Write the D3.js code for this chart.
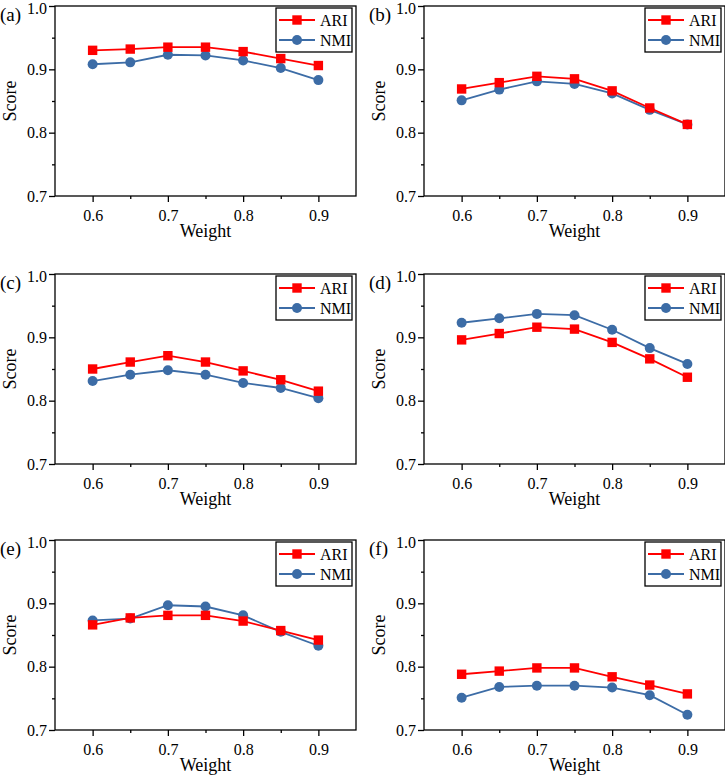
<!DOCTYPE html>
<html lang="en">
<meta charset="utf-8">
<style>
body { margin: 0; background: #fff; }
svg, svg text { font-family: 'Liberation Serif', 'Times New Roman', 'DejaVu Serif', serif; }
svg text { fill: #000; }
.frame { fill: none; stroke: #000; stroke-width: 1.3px; }
.line { fill: none; stroke-width: 1.8px; }
</style>
<body>
<script src="https://d3js.org/d3.v7.min.js"></script>
<script>

var weights = [0.6, 0.65, 0.7, 0.75, 0.8, 0.85, 0.9];

var ariA = [0.930, 0.932, 0.935, 0.935, 0.928, 0.917, 0.906];
var nmiA = [0.908, 0.911, 0.923, 0.922, 0.914, 0.902, 0.883];

var ariB = [0.869, 0.879, 0.889, 0.885, 0.866, 0.839, 0.813];
var nmiB = [0.851, 0.868, 0.881, 0.877, 0.862, 0.836, 0.813];

var ariC = [0.850, 0.861, 0.871, 0.861, 0.847, 0.833, 0.815];
var nmiC = [0.831, 0.841, 0.848, 0.841, 0.828, 0.820, 0.804];

var ariD = [0.896, 0.906, 0.916, 0.913, 0.892, 0.866, 0.837];
var nmiD = [0.923, 0.930, 0.937, 0.935, 0.912, 0.883, 0.858];

var ariE = [0.866, 0.877, 0.881, 0.881, 0.872, 0.857, 0.842];
var nmiE = [0.873, 0.876, 0.897, 0.895, 0.881, 0.855, 0.833];

var ariF = [0.788, 0.793, 0.798, 0.798, 0.784, 0.771, 0.757];
var nmiF = [0.751, 0.768, 0.770, 0.770, 0.767, 0.755, 0.724];

var panelLabels = ["(a)", "(b)", "(c)", "(d)", "(e)", "(f)"];
var xTicks = [0.6, 0.7, 0.8, 0.9];
var yTicks = [0.7, 0.8, 0.9, 1.0];

var ariSeries = [ariA, ariB, ariC, ariD, ariE, ariF];
var nmiSeries = [nmiA, nmiB, nmiC, nmiD, nmiE, nmiF];

var red = "#ff0000", blue = "#3c6ca6";
var serif = "'Liberation Serif', 'Times New Roman', 'DejaVu Serif', serif";

var colLeft = [55, 424], rowTop = [6, 274, 540];
var width = 301, height = 190;

var svg = d3.select("body").append("svg")
    .attr("width", 725)
    .attr("height", 777)
    .attr("font-family", serif);

panelLabels.forEach(function(label, i) {
  var ox = colLeft[i % 2], oy = rowTop[Math.floor(i / 2)];
  var g = svg.append("g").attr("transform", "translate(" + ox + "," + oy + ")");

  var x = d3.scaleLinear().domain([0.55, 0.95]).range([0, width]);
  var y = d3.scaleLinear().domain([0.7, 1.0]).range([height, 0]);

  // minor ticks
  g.append("g")
      .attr("transform", "translate(0," + height + ")")
      .call(d3.axisBottom(x).tickValues([0.65, 0.75, 0.85]).tickSize(3).tickFormat(""))
      .call(function(a) { a.select(".domain").remove(); });
  g.append("g")
      .call(d3.axisLeft(y).tickValues([0.75, 0.85, 0.95]).tickSize(3).tickFormat(""))
      .call(function(a) { a.select(".domain").remove(); });

  // major ticks
  var xa = g.append("g")
      .attr("transform", "translate(0," + height + ")")
      .call(d3.axisBottom(x).tickValues(xTicks).tickSize(6).tickPadding(8).tickFormat(d3.format(".1f")));
  var ya = g.append("g")
      .call(d3.axisLeft(y).tickValues(yTicks).tickSize(6).tickPadding(2).tickFormat(d3.format(".1f")));
  [xa, ya].forEach(function(a) {
    a.attr("font-family", serif).attr("font-size", 16);
    a.select(".domain").remove();
    a.selectAll("text").attr("font-family", serif).attr("font-size", 16);
  });
  // top label sits a little low, as in the source figure
  ya.selectAll(".tick").filter(function(d) { return d === 1.0; })
      .select("text").attr("dy", "0.45em");
  g.selectAll(".tick line").attr("stroke", "#000").attr("stroke-width", 1.3);

  g.append("rect").attr("class", "frame")
      .attr("width", width).attr("height", height);

  g.append("text")
      .attr("transform", "rotate(-90)")
      .attr("x", -height / 2)
      .attr("y", -39)
      .attr("text-anchor", "middle")
      .attr("font-family", serif)
      .attr("font-size", 18)
      .text("Score");

  g.append("text")
      .attr("x", width / 2)
      .attr("y", height + 41)
      .attr("text-anchor", "middle")
      .attr("font-family", serif)
      .attr("font-size", 18)
      .text("Weight");

  g.append("text")
      .attr("x", -55)
      .attr("y", 15)
      .attr("font-family", serif)
      .attr("font-size", 19)
      .text(label);

  var series = [
    {name: "ARI", vals: ariSeries[i], color: red, shape: "square"},
    {name: "NMI", vals: nmiSeries[i], color: blue, shape: "circle"}
  ];

  var line = d3.line()
      .x(function(d, j) { return x(weights[j]); })
      .y(function(d) { return y(d); });

  function marker(sel, s) {
    if (s.shape === "square") {
      sel.append("rect")
          .attr("x", -4.7).attr("y", -4.7)
          .attr("width", 9.4).attr("height", 9.4)
          .attr("fill", s.color);
    } else {
      sel.append("circle").attr("r", 5).attr("fill", s.color);
    }
  }

  // NMI first, ARI on top
  [series[1], series[0]].forEach(function(s) {
    g.append("path").datum(s.vals)
        .attr("class", "line")
        .attr("stroke", s.color)
        .attr("d", line);
    s.vals.forEach(function(v, j) {
      var m = g.append("g").attr("transform", "translate(" + x(weights[j]) + "," + y(v) + ")");
      marker(m, s);
    });
  });

  // legend
  var lg = g.append("g").attr("transform", "translate(" + (width - 80) + ",2)");
  lg.append("rect").attr("class", "frame")
      .attr("width", 76).attr("height", 44);
  series.forEach(function(s, k) {
    var ly = 12 + k * 20;
    lg.append("line")
        .attr("x1", 3).attr("x2", 39)
        .attr("y1", ly).attr("y2", ly)
        .attr("stroke", s.color).attr("stroke-width", 1.8);
    var m = lg.append("g").attr("transform", "translate(21," + ly + ")");
    marker(m, s);
    lg.append("text")
        .attr("x", 44).attr("y", ly + 5.5)
        .attr("font-family", serif)
        .attr("font-size", 16)
        .text(s.name);
  });
});

</script>
</body>
</html>
